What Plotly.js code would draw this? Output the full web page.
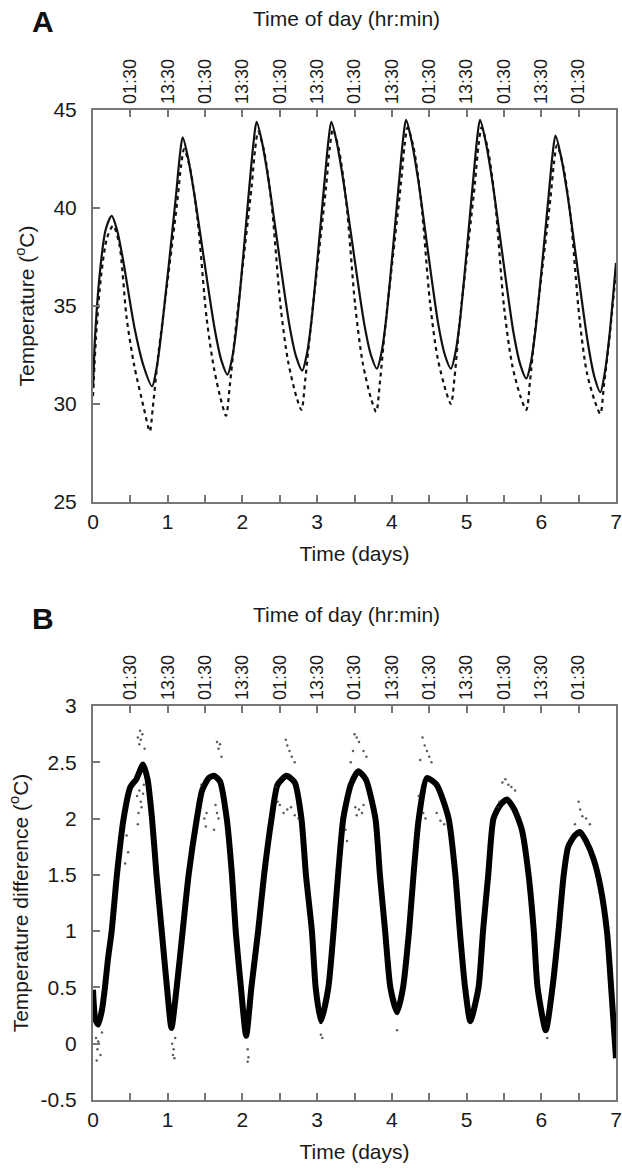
<!DOCTYPE html>
<html>
<head>
<meta charset="utf-8">
<script src="https://cdn.plot.ly/plotly-3.0.1.min.js"></script>
<style>html,body{margin:0;padding:0;background:#fff;}#chart{width:622px;height:1171px;}</style>
</head>
<body>
<div id="chart"></div>
<script>
// ---- Panel A: temperature (solid and dashed curves) ----
const daysSolid = [0,0.03,0.1,0.17,0.25,0.32,0.4,0.56,0.68,0.79,0.85,0.92,
  1.11,1.16,1.2,1.27,1.36,1.63,1.72,1.8,1.86,1.92,
  2.10,2.15,2.19,2.26,2.35,2.63,2.72,2.8,2.86,2.92,
  3.10,3.15,3.19,3.26,3.35,3.63,3.72,3.8,3.86,3.92,
  4.10,4.15,4.19,4.26,4.35,4.62,4.71,4.79,4.85,4.91,
  5.09,5.14,5.18,5.25,5.34,5.63,5.72,5.8,5.86,5.92,
  6.10,6.15,6.19,6.26,6.35,6.62,6.71,6.79,6.85,6.91,7.0];
const tempSolid = [30.8,33.6,37.0,38.9,39.6,38.9,37.4,33.8,31.9,30.9,31.8,33.8,
  40.6,42.6,43.6,42.6,40.6,33.8,32.2,31.5,32.3,33.9,
  41.4,43.4,44.4,43.4,41.4,34.0,32.4,31.7,32.5,34.1,
  41.4,43.4,44.4,43.4,41.4,34.1,32.5,31.8,32.6,34.2,
  41.5,43.5,44.5,43.5,41.5,34.1,32.5,31.8,32.6,34.2,
  41.5,43.5,44.5,43.5,41.5,33.6,32.0,31.3,32.1,33.7,
  40.7,42.7,43.7,42.7,40.7,33.2,31.4,30.6,31.6,33.4,37.2];

const daysDashed = [0,0.04,0.11,0.19,0.27,0.35,0.45,0.55,0.68,0.76,0.8,0.87,0.93,
  1.13,1.18,1.22,1.3,1.4,1.52,1.62,1.72,1.78,1.83,1.9,
  2.12,2.17,2.21,2.29,2.39,2.51,2.61,2.72,2.79,2.84,2.91,
  3.12,3.17,3.21,3.29,3.39,3.51,3.61,3.72,3.79,3.84,3.91,
  4.12,4.17,4.21,4.29,4.39,4.51,4.61,4.72,4.79,4.84,4.9,
  5.11,5.16,5.2,5.28,5.38,5.5,5.61,5.72,5.8,5.85,5.91,
  6.12,6.17,6.21,6.29,6.39,6.51,6.61,6.72,6.79,6.84,6.91,7.0];
const tempDashed = [30.4,33.4,36.6,38.5,39.1,38.2,34.4,32.0,29.8,28.6,29.8,32.4,34.2,
  40.4,42.2,43.0,42.0,39.4,34.4,31.8,30.1,29.4,30.9,33.5,
  41.0,43.0,43.9,42.9,40.2,35.0,32.2,30.4,29.7,31.2,33.8,
  41.1,43.1,44.0,43.0,40.3,35.0,32.1,30.3,29.6,31.1,33.9,
  41.2,43.2,44.1,43.1,40.4,35.2,32.4,30.7,30.0,31.4,33.9,
  41.2,43.2,44.1,43.1,40.4,35.0,32.0,30.4,29.7,31.2,33.5,
  40.4,42.3,43.2,42.2,39.6,34.4,31.6,30.1,29.5,31.0,33.3,36.8];

// ---- Panel B: temperature difference ----
const daysDiff = [0,0.03,0.07,0.12,0.16,0.2,0.25,0.32,0.41,0.5,0.58,0.67,0.73,0.79,0.85,0.92,0.99,1.05,
  1.12,1.2,1.28,1.39,1.46,1.55,1.62,1.7,1.79,1.86,1.91,1.98,2.05,
  2.12,2.21,2.29,2.39,2.47,2.59,2.7,2.79,2.85,2.93,2.98,3.05,
  3.15,3.22,3.28,3.35,3.45,3.55,3.65,3.78,3.84,3.91,3.98,4.07,
  4.15,4.23,4.29,4.36,4.47,4.6,4.76,4.85,4.91,4.98,5.05,
  5.16,5.22,5.29,5.36,5.45,5.54,5.64,5.74,5.83,5.9,5.95,6.06,
  6.15,6.23,6.3,6.36,6.45,6.52,6.6,6.7,6.79,6.88,6.94,7.0];
const diffValues = [0.48,0.22,0.17,0.3,0.5,0.75,1.0,1.5,2.0,2.28,2.35,2.48,2.35,2.0,1.5,1.0,0.5,0.14,
  0.5,1.0,1.5,2.0,2.25,2.36,2.38,2.33,2.0,1.5,1.0,0.5,0.07,
  0.5,1.0,1.5,2.0,2.3,2.38,2.32,2.0,1.5,1.0,0.5,0.2,
  0.5,1.0,1.5,2.0,2.3,2.42,2.35,2.0,1.5,1.0,0.5,0.28,
  0.5,1.0,1.5,2.0,2.36,2.3,2.0,1.5,1.0,0.5,0.2,
  0.5,1.0,1.5,2.0,2.12,2.17,2.08,1.9,1.5,1.0,0.5,0.12,
  0.5,1.0,1.5,1.75,1.85,1.88,1.8,1.64,1.4,0.99,0.45,-0.13];

// scattered individual readings away from the main band
const daysScatter = [0.6,0.63,0.64,0.66,0.62,0.69,0.59,0.61,0.62,0.64,0.65,0.67,0.68,0.6,0.45,0.47,0.43,
  1.66,1.68,1.7,1.72,1.49,1.51,1.52,1.64,1.66,1.68,1.62,1.45,
  2.58,2.6,2.63,2.66,2.7,2.5,2.55,2.6,2.65,2.7,2.75,2.45,2.47,
  3.5,3.53,3.56,3.62,3.66,3.45,3.48,3.51,3.53,3.56,3.6,3.62,3.4,3.38,
  4.41,4.44,4.47,4.5,4.53,4.38,4.42,4.45,4.6,4.65,4.7,4.36,
  5.48,5.52,5.56,5.6,5.65,5.42,5.44,
  6.5,6.52,6.55,6.6,6.45,6.65,
  0.04,0.06,0.08,0.1,0.05,0.12,0.07,1.06,1.08,1.07,1.09,1.1,2.07,2.08,2.07,3.05,3.07,4.07,6.08];
const diffScatter = [2.72,2.78,2.7,2.75,2.66,2.62,2.2,2.05,2.25,2.15,2.1,2.22,2.3,1.95,1.85,1.7,1.6,
  2.68,2.62,2.66,2.55,2.0,1.93,2.05,2.12,2.05,2.0,1.9,2.3,
  2.7,2.65,2.6,2.55,2.5,2.12,2.05,2.08,2.1,2.03,2.0,2.28,2.15,
  2.75,2.72,2.68,2.6,2.55,2.5,2.6,2.1,2.03,2.08,2.05,2.12,1.8,1.9,
  2.72,2.65,2.6,2.55,2.5,2.52,2.05,2.0,2.05,1.98,1.95,2.2,
  2.32,2.35,2.3,2.28,2.25,2.1,2.15,
  2.15,2.08,2.02,2.0,1.95,1.95,
  0.05,-0.05,0.0,-0.1,-0.15,0.1,0.02,0.0,-0.05,-0.1,-0.13,0.05,-0.05,-0.12,-0.16,0.08,0.05,0.12,0.05];

// ---- tick labels ----
const dayTickVals = [0,1,2,3,4,5,6,7];
const dayTickText = ['0','1','2','3','4','5','6','7'];
const clockTickVals = [0.5,1,1.5,2,2.5,3,3.5,4,4.5,5,5.5,6,6.5];
const clockTickText = ['01:30','13:30','01:30','13:30','01:30','13:30','01:30','13:30','01:30','13:30','01:30','13:30','01:30'];
const diffTickVals = [-0.5,0,0.5,1,1.5,2,2.5,3];
const diffTickText = ['-0.5','0','0.5','1','1.5','2','2.5','3'];

const W = 622, H = 1171;
const FONT = 'Liberation Sans, Arial, Helvetica, sans-serif';
const TXT = '#1a1a1a';
const AX = '#777';
const px = v => v / W;
const py = v => 1 - v / H;

const traces = [
  {x: daysDashed, y: tempDashed, xaxis: 'x3', yaxis: 'y', mode: 'lines',
   line: {color: '#111', width: 2.2, dash: '4px,4px', shape: 'spline', smoothing: 0.8}, hoverinfo: 'skip'},
  {x: daysSolid, y: tempSolid, xaxis: 'x', yaxis: 'y', mode: 'lines',
   line: {color: '#111', width: 2.2, shape: 'spline', smoothing: 0.8}, hoverinfo: 'skip'},
  {x: daysScatter, y: diffScatter, xaxis: 'x4', yaxis: 'y2', mode: 'markers',
   marker: {color: '#333', size: 2.5, opacity: 0.8}, hoverinfo: 'skip'},
  {x: daysDiff, y: diffValues, xaxis: 'x2', yaxis: 'y2', mode: 'lines',
   line: {color: '#000', width: 6, shape: 'spline', smoothing: 0.6}, hoverinfo: 'skip'}
];

function bottomAxis(anchor) {
  return {
    domain: [px(93), px(616)], anchor: anchor, range: [0, 7], autorange: false,
    tickmode: 'array', tickvals: dayTickVals, ticktext: dayTickText,
    ticks: 'inside', ticklen: 7, tickwidth: 2, tickcolor: AX,
    minor: {dtick: 0.5, ticks: 'inside', ticklen: 7, tickwidth: 2, tickcolor: AX, showgrid: false},
    showline: true, linecolor: AX, linewidth: 2, mirror: true,
    showgrid: false, zeroline: false, ticklabelstandoff: 0,
    tickfont: {family: FONT, size: 21, color: TXT},
    title: {text: 'Time (days)', font: {family: FONT, size: 21, color: TXT}, standoff: 14}
  };
}
function topAxis(over, anchor) {
  return {
    overlaying: over, anchor: anchor, side: 'top', range: [0, 7], autorange: false,
    tickmode: 'array', tickvals: clockTickVals, ticktext: clockTickText,
    tickangle: -90, ticks: 'inside', ticklen: 7, tickwidth: 2, tickcolor: AX,
    showline: false, showgrid: false, zeroline: false, ticklabelstandoff: 5,
    tickfont: {family: FONT, size: 18, color: TXT}
  };
}

const layout = {
  width: W, height: H,
  margin: {l: 0, r: 0, t: 0, b: 0},
  paper_bgcolor: '#fff', plot_bgcolor: '#fff',
  showlegend: false,
  font: {family: FONT, color: TXT},
  xaxis: bottomAxis('y'),
  xaxis2: bottomAxis('y2'),
  xaxis3: topAxis('x', 'y'),
  xaxis4: topAxis('x2', 'y2'),
  yaxis: {
    domain: [py(502), py(110)], anchor: 'x', range: [25, 45], dtick: 5,
    ticks: 'inside', ticklen: 7, tickwidth: 2, tickcolor: AX,
    showline: true, linecolor: AX, linewidth: 2, mirror: true,
    showgrid: false, zeroline: false, ticklabelstandoff: 10,
    tickfont: {family: FONT, size: 21, color: TXT},
    title: {text: 'Temperature (<sup>o</sup>C)', font: {family: FONT, size: 21, color: TXT}, standoff: 13}
  },
  yaxis2: {
    domain: [py(1100), py(706)], anchor: 'x2', range: [-0.5, 3],
    tickmode: 'array', tickvals: diffTickVals, ticktext: diffTickText,
    ticks: 'inside', ticklen: 7, tickwidth: 2, tickcolor: AX,
    showline: true, linecolor: AX, linewidth: 2, mirror: true,
    showgrid: false, zeroline: false, ticklabelstandoff: 10,
    tickfont: {family: FONT, size: 21, color: TXT},
    title: {text: 'Temperature difference (<sup>o</sup>C)', font: {family: FONT, size: 21, color: TXT}, standoff: 6}
  },
  annotations: [
    {text: '<b>A</b>', xref: 'paper', yref: 'paper', x: px(43), y: py(22), xanchor: 'center', yanchor: 'middle',
     showarrow: false, font: {family: FONT, size: 30, color: '#111'}},
    {text: '<b>B</b>', xref: 'paper', yref: 'paper', x: px(43), y: py(618), xanchor: 'center', yanchor: 'middle',
     showarrow: false, font: {family: FONT, size: 30, color: '#111'}},
    {text: 'Time of day (hr:min)', xref: 'paper', yref: 'paper', x: px(346), y: py(19), xanchor: 'center', yanchor: 'middle',
     showarrow: false, font: {family: FONT, size: 21, color: TXT}},
    {text: 'Time of day (hr:min)', xref: 'paper', yref: 'paper', x: px(346), y: py(615), xanchor: 'center', yanchor: 'middle',
     showarrow: false, font: {family: FONT, size: 21, color: TXT}}
  ]
};

Plotly.newPlot('chart', traces, layout, {staticPlot: true, displayModeBar: false});
</script>
</body>
</html>
